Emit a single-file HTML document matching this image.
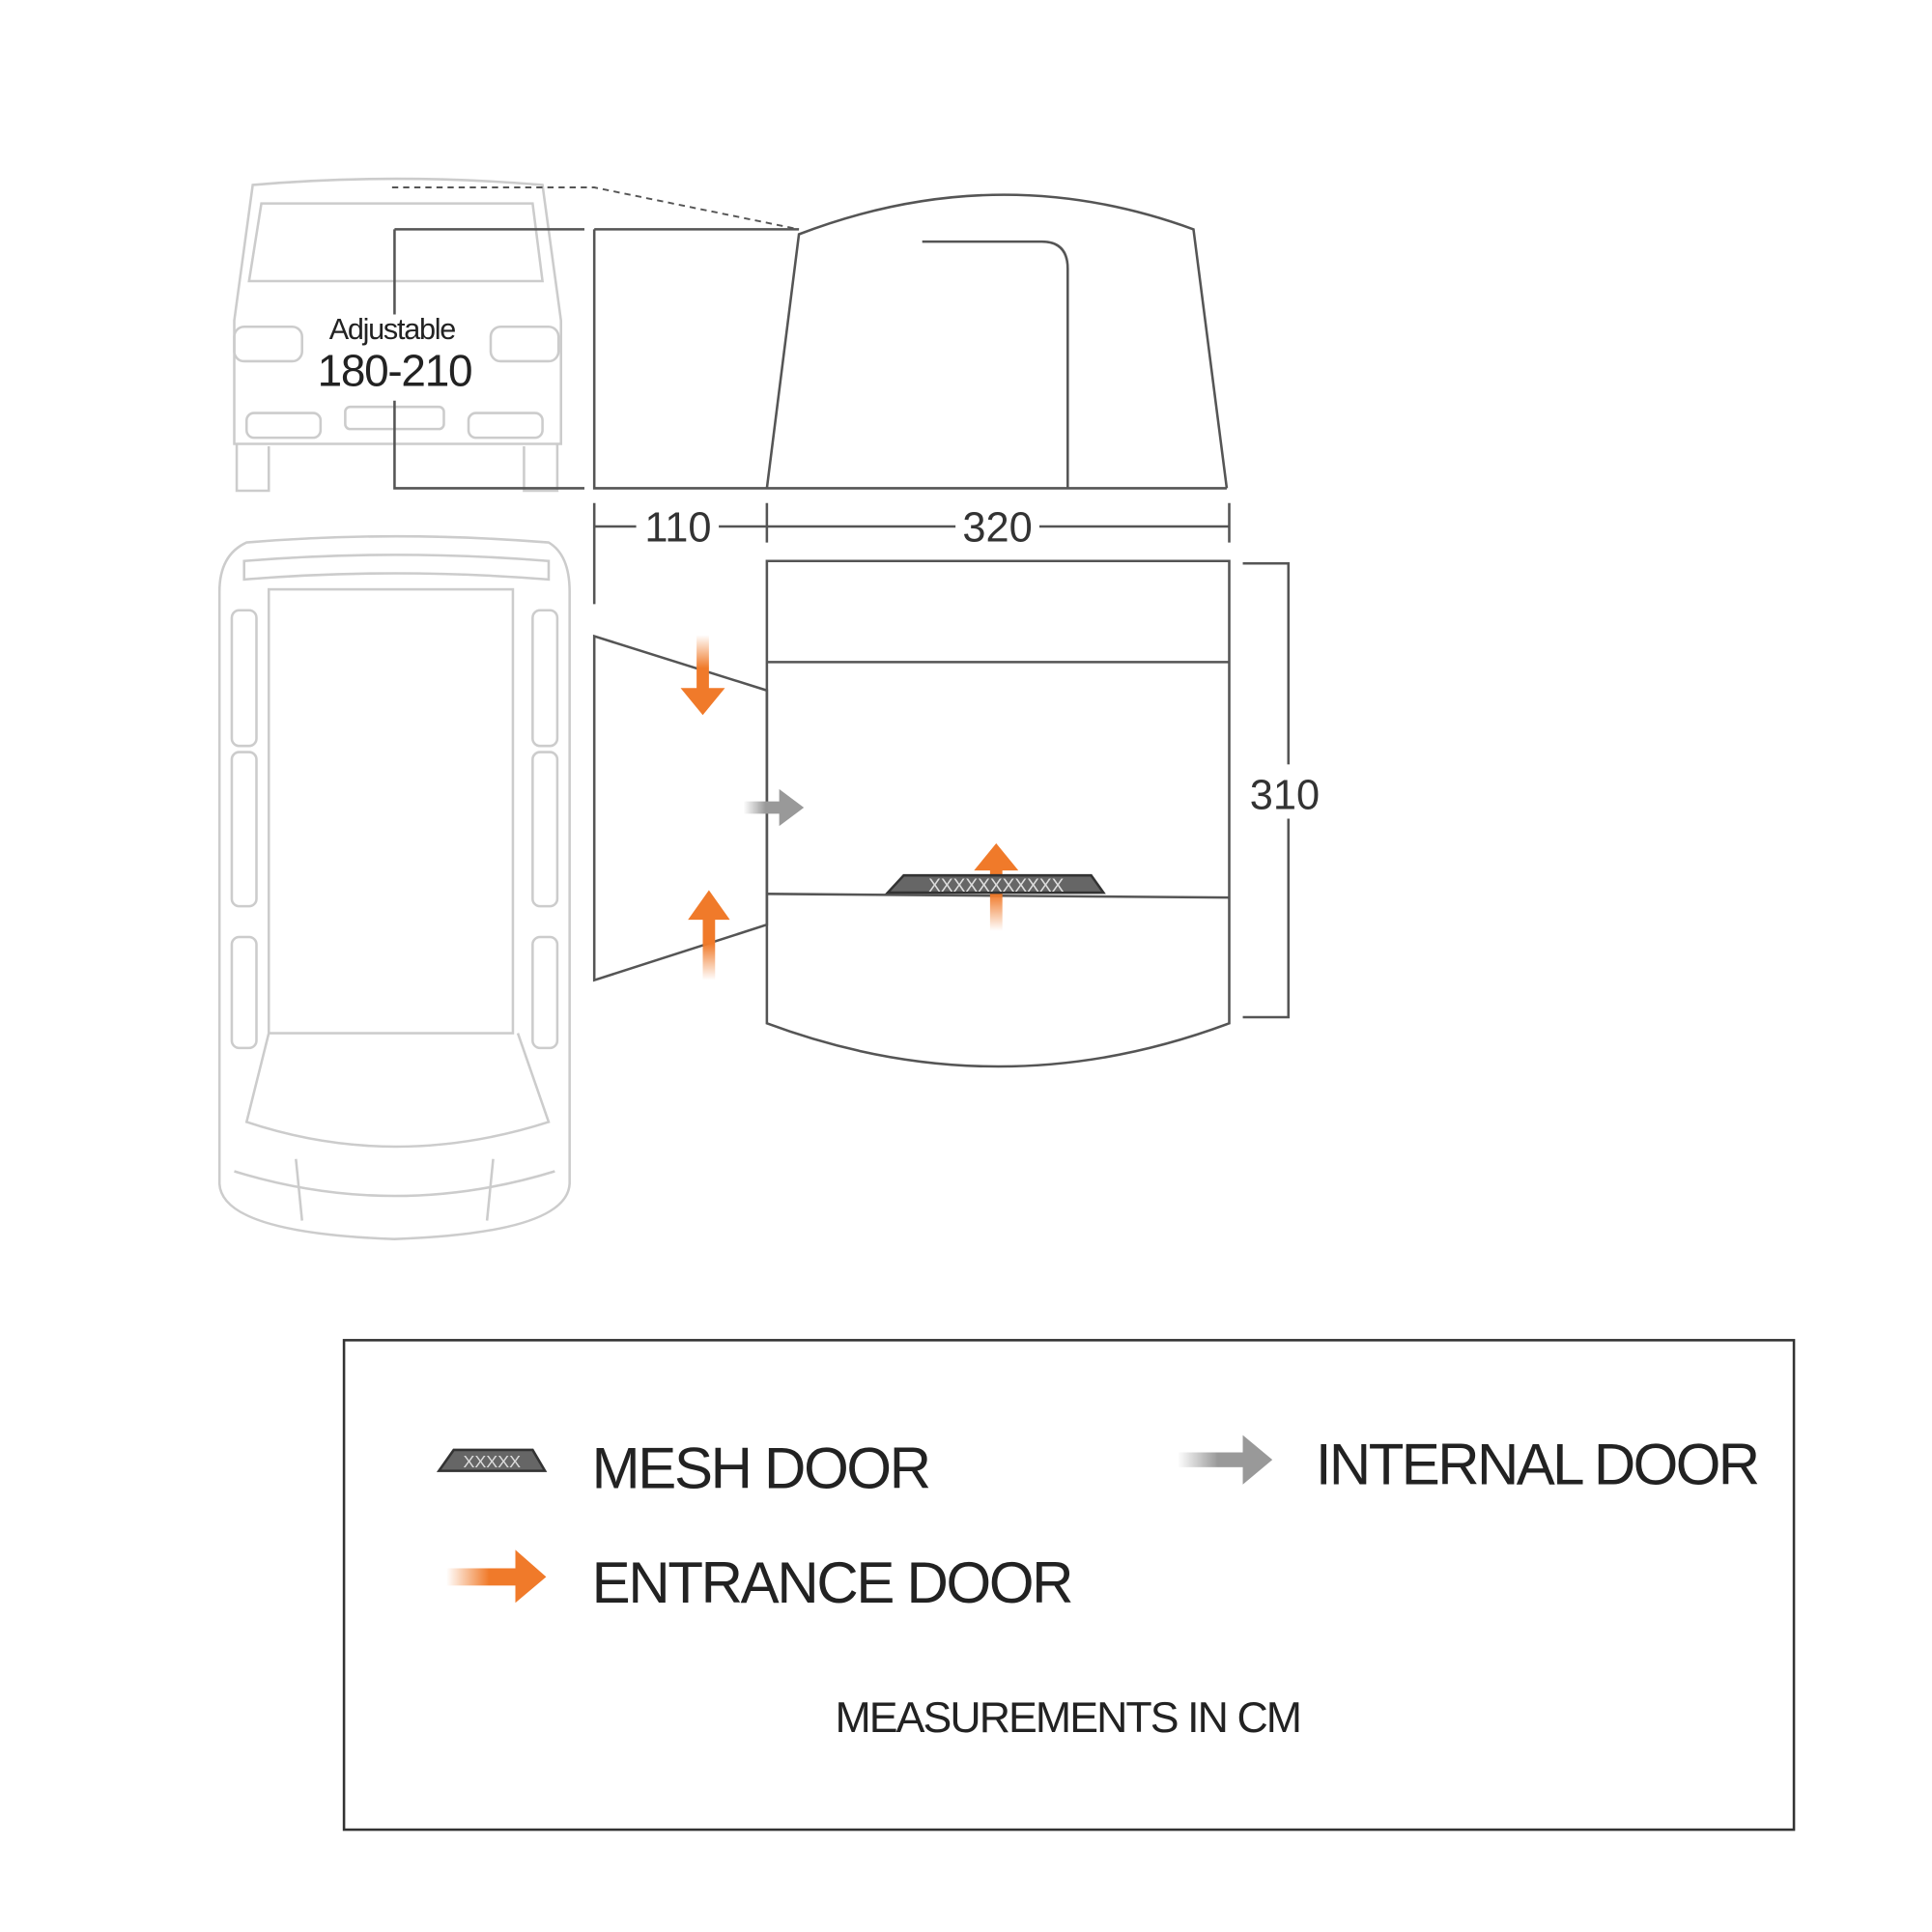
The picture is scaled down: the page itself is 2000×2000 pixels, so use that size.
<!DOCTYPE html>
<html><head><meta charset="utf-8"><style>
html,body{margin:0;padding:0;background:#fff;}
svg{display:block;}
text{font-family:"Liberation Sans",sans-serif;}
</style></head><body>
<svg width="2000" height="2000" viewBox="0 0 1567 1567" xmlns="http://www.w3.org/2000/svg">
<defs>
<linearGradient id="og" x1="0" y1="0" x2="1" y2="0"><stop offset="0" stop-color="#f07a2a" stop-opacity="0"/><stop offset="0.6" stop-color="#f07a2a"/></linearGradient>
<linearGradient id="ogv" x1="0" y1="1" x2="0" y2="0"><stop offset="0" stop-color="#f07a2a" stop-opacity="0"/><stop offset="0.6" stop-color="#f07a2a"/></linearGradient>
<linearGradient id="ogd" x1="0" y1="0" x2="0" y2="1"><stop offset="0" stop-color="#f07a2a" stop-opacity="0"/><stop offset="0.6" stop-color="#f07a2a"/></linearGradient>
<linearGradient id="gg" x1="0" y1="0" x2="1" y2="0"><stop offset="0" stop-color="#999" stop-opacity="0"/><stop offset="0.6" stop-color="#999"/></linearGradient>
</defs>
<g fill="none" stroke="#ccc" stroke-width="2">
<path d="M205 150 Q320 140 440 150 L455 260 L455 360 L190 360 L190 260 Z"/>
<path d="M212 165 L432 165 L440 228 L202 228 Z"/>
<rect x="190" y="265" width="55" height="28" rx="8"/><rect x="398" y="265" width="55" height="28" rx="8"/>
<rect x="200" y="335" width="60" height="20" rx="6"/><rect x="380" y="335" width="60" height="20" rx="6"/>
<rect x="280" y="330" width="80" height="18" rx="4"/>
<path d="M192 360 L192 398 L218 398 L218 362"/><path d="M425 362 L425 398 L452 398 L452 360"/>
<path d="M200 440 Q320 430 445 440 Q462 450 462 480 L462 960 Q460 1000 320 1005 Q180 1000 178 960 L178 480 Q178 450 200 440 Z"/>
<path d="M198 455 Q320 445 445 455 L445 470 Q320 460 198 470 Z"/>
<rect x="218" y="478" width="198" height="360"/>
<path d="M218 838 L200 910 Q320 950 445 910 L420 838"/>
<rect x="188" y="495" width="20" height="110" rx="6"/><rect x="432" y="495" width="20" height="110" rx="6"/>
<rect x="188" y="610" width="20" height="125" rx="6"/><rect x="432" y="610" width="20" height="125" rx="6"/>
<rect x="188" y="760" width="20" height="90" rx="6"/><rect x="432" y="760" width="20" height="90" rx="6"/>
<path d="M190 950 Q320 990 450 950"/><path d="M240 940 L245 990 M400 940 L395 990"/>
</g>
<path d="M318 152 L482 152 L648 186" fill="none" stroke="#555" stroke-width="1.5" stroke-dasharray="5 4"/>
<g fill="none" stroke="#555" stroke-width="2">
<path d="M320 186 L474 186 M320 186 L320 255 M320 325 L320 396 L474 396"/>
<path d="M482 186 L482 396 L995 396"/>
<path d="M482 186 L648 186"/>
<path d="M622 396 L648 190 Q810 128 968 186 L995 396"/>
<path d="M748 196 L845 196 Q866 196 866 218 L866 396"/>
<path d="M482 408 L482 490 M622 408 L622 440 M997 408 L997 440"/>
<path d="M482 427 L516 427 M583 427 L622 427 L775 427 M843 427 L997 427"/>
<path d="M1008 457 L1045 457 L1045 825 L1008 825"/>
<path d="M482 516 L622 560 L622 750 L482 795 Z"/>
<path d="M622 455 L997 455 L997 830 Q810 900 622 830 Z"/>
<path d="M622 537 L997 537 M622 725 L997 728"/>
</g>
<rect x="1008" y="620" width="70" height="44" fill="#fff"/>
<text x="318" y="275" font-size="24" text-anchor="middle" fill="#222" letter-spacing="-1">Adjustable</text>
<text x="320" y="313" font-size="36" text-anchor="middle" fill="#222" letter-spacing="-1">180-210</text>
<text x="550" y="439" font-size="34" text-anchor="middle" fill="#333">110</text>
<text x="809" y="439" font-size="34" text-anchor="middle" fill="#333">320</text>
<text x="1042" y="656" font-size="34" text-anchor="middle" fill="#333">310</text>
<rect x="565" y="515" width="10" height="45" fill="url(#ogd)"/><path d="M552 558 L588 558 L570 580 Z" fill="#f07a2a"/>
<rect x="570" y="745" width="10" height="50" fill="url(#ogv)"/><path d="M558 746 L592 746 L575 722 Z" fill="#f07a2a"/>
<rect x="803" y="705" width="10" height="50" fill="url(#ogv)"/><path d="M790 706 L826 706 L808 684 Z" fill="#f07a2a"/>
<rect x="603" y="650" width="30" height="10" fill="url(#gg)"/><path d="M632 640 L652 655 L632 670 Z" fill="#999"/>
<path d="M720 724 L733 710 L885 710 L895 724 Z" fill="#666" stroke="#333" stroke-width="2"/>
<text x="808" y="723" font-size="15" text-anchor="middle" fill="#ddd">XXXXXXXXXXX</text>
<rect x="279" y="1087" width="1176" height="397" fill="none" stroke="#333" stroke-width="2"/>
<path d="M356 1193 L368 1176 L432 1176 L442 1193 Z" fill="#666" stroke="#333" stroke-width="2"/>
<text x="399" y="1190" font-size="14" text-anchor="middle" fill="#ddd">XXXXX</text>
<text x="480" y="1207" font-size="47" fill="#222" letter-spacing="-1.8">MESH DOOR</text>
<rect x="955" y="1178" width="55" height="12" fill="url(#gg)"/><path d="M1008 1164 L1032 1184 L1008 1204 Z" fill="#999"/>
<text x="1067" y="1204" font-size="47" fill="#222" letter-spacing="-2">INTERNAL DOOR</text>
<rect x="362" y="1272" width="58" height="14" fill="url(#og)"/><path d="M418 1257 L443 1279 L418 1300 Z" fill="#f07a2a"/>
<text x="480" y="1300" font-size="47" fill="#222" letter-spacing="-1.8">ENTRANCE DOOR</text>
<text x="866" y="1405" font-size="35" text-anchor="middle" fill="#222" letter-spacing="-1.5">MEASUREMENTS IN CM</text>
</svg>
</body></html>
